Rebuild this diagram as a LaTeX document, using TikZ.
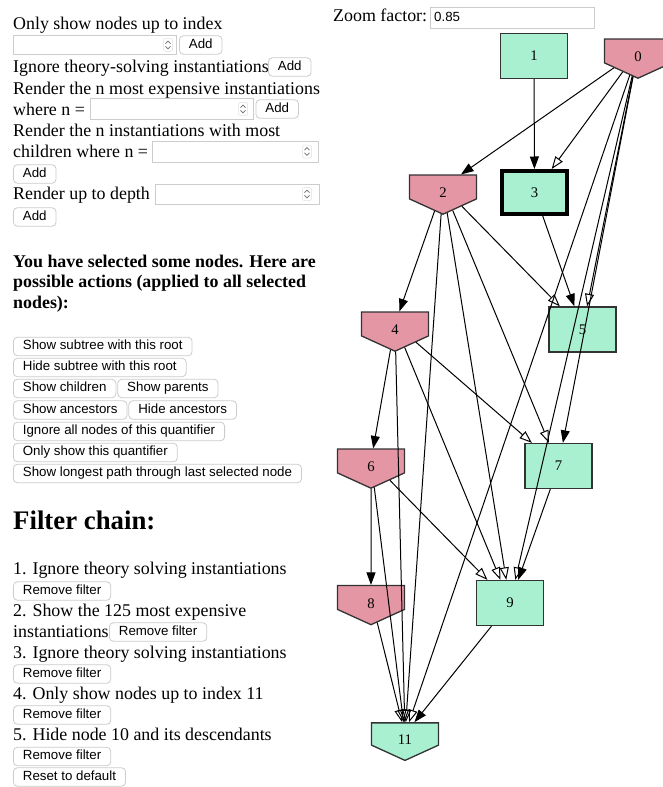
\documentclass[tikz,border=0pt]{standalone}
\usepackage{fontspec}
\setmainfont{Liberation Serif}
\setsansfont{Liberation Sans}
\usetikzlibrary{arrows.meta,shapes.symbols}

\definecolor{pinkfill}{RGB}{228,150,165}
\definecolor{greenfill}{RGB}{168,240,208}
\definecolor{nodeline}{RGB}{51,51,51}
\definecolor{boxline}{RGB}{204,204,204}
\definecolor{spincol}{RGB}{110,110,110}

\newcommand{\uitext}{\fontsize{17.9}{21.5}\selectfont}
\newcommand{\btntext}{\sffamily\fontsize{13.3}{16}\selectfont}
\newcommand{\headtext}{\bfseries\fontsize{17.9}{21}\selectfont}
\newcommand{\bigheadtext}{\bfseries\fontsize{26.8}{30}\selectfont}
\newcommand{\graphtext}{\fontsize{14.7}{17}\selectfont}

% small up/down stepper glyph of a number field
\newcommand{\spinner}[2]{%
  \draw[draw=boxline!60, line width=0.5pt, rounded corners=2pt] (#1-4.5,#2-6.5) rectangle (#1+4.5,#2+6.5);
  \draw[spin] (#1-2.4,#2-1.4) -- (#1,#2-4) -- (#1+2.4,#2-1.4);
  \draw[spin] (#1-2.4,#2+1.4) -- (#1,#2+4) -- (#1+2.4,#2+1.4);
}

\tikzset{
  txt/.style={anchor=base west, inner sep=0pt, font=\uitext},
  btn/.style={anchor=west, draw=boxline, fill=white, rounded corners=4pt, line width=0.8pt,
    font=\btntext, inner xsep=9.5pt, inner ysep=0pt, minimum height=18.5pt,
    text height=9.6pt, text depth=2.8pt},
  inbox/.style={draw=boxline, fill=white, line width=0.8pt},
  spin/.style={draw=spincol, line width=0.7pt, line cap=round, line join=round},
  qbox/.style={rectangle, draw=nodeline, fill=greenfill, line width=1.3pt,
    minimum width=67pt, minimum height=45pt, inner sep=0pt, font=\graphtext},
  % body of the pentagon is 25.5 high, the point adds about 15.5 below it;
  % the taller text box pushes the label down towards the middle of the whole shape
  qpent/.style={signal, signal to=south, signal from=nowhere, signal pointer angle=131,
    draw=nodeline, line width=1.3pt, minimum width=67pt, minimum height=25.5pt,
    inner sep=0pt, text height=21.5pt, text depth=0pt, font=\graphtext},
  direct/.style={-{Triangle[length=12.5pt,width=9pt]}, line width=1pt},
  indirect/.style={-{Triangle[open,length=12.5pt,width=9pt]}, line width=1pt},
}

\begin{document}
\begin{tikzpicture}[x=1pt, y=-1pt]
\useasboundingbox (0,0) rectangle (663,787);
\clip (0,0) rectangle (663,787);
\fill[white] (0,0) rectangle (663,787);

% ---- filter form ----
\node[txt] (t1) at (13,29.5) {Only show nodes up to index};
\draw[inbox] (13,35.5) rectangle (176,54.5); \spinner{168}{45}
\node[btn] (add1) at (179,45) {Add};
\node[txt] (t2) at (13,72.5) {Ignore theory-solving instantiations};
\node[btn] (add2) at (268,67) {Add};
\node[txt] (t3) at (13,94) {Render the n most expensive instantiations};
\node[txt] (t4) at (13,115) {where n =};
\draw[inbox] (90,98.5) rectangle (253,119); \spinner{243}{109}
\node[btn] (add3) at (255.5,109) {Add};
\node[txt] (t5) at (13,136.5) {Render the n instantiations with most};
\node[txt] (t6) at (13,157.5) {children where n =};
\draw[inbox] (152,141) rectangle (318,162); \spinner{307}{151.5}
\node[btn] (add4) at (13,174) {Add};
\node[txt] (t7) at (13,199) {Render up to depth};
\draw[inbox] (155,184) rectangle (319,204.5); \spinner{307}{194}
\node[btn] (add5) at (13,217) {Add};

% ---- actions on selected nodes ----
\node[txt, font=\headtext] (h1) at (13,267) {You have selected some nodes. Here are};
\node[txt, font=\headtext] (h2) at (13,287.5) {possible actions (applied to all selected};
\node[txt, font=\headtext] (h3) at (13,308) {nodes):};

\node[btn] (a1) at (13,346.5) {Show subtree with this root};
\node[btn] (a2) at (13,367.5) {Hide subtree with this root};
\node[btn] (a3) at (13,388.5) {Show children};
\node[btn] (a4) at ([xshift=1pt]a3.east) {Show parents};
\node[btn] (a5) at (13,410) {Show ancestors};
\node[btn] (a6) at ([xshift=1pt]a5.east) {Hide ancestors};
\node[btn] (a7) at (13,431.5) {Ignore all nodes of this quantifier};
\node[btn] (a8) at (13,452.5) {Only show this quantifier};
\node[btn] (a9) at (13,473.5) {Show longest path through last selected node};

% ---- filter chain ----
\node[txt, font=\bigheadtext] (fc) at (13,529) {Filter chain:};
\node[txt] (f1) at (13,574.5) {1. Ignore theory solving instantiations};
\node[btn] (r1) at (13,591) {Remove filter};
\node[txt] (f2) at (13,616) {2. Show the 125 most expensive};
\node[txt] (f2b) at (13,637) {instantiations};
\node[btn] (r2) at (109,632) {Remove filter};
\node[txt] (f3) at (13,658) {3. Ignore theory solving instantiations};
\node[btn] (r3) at (13,674) {Remove filter};
\node[txt] (f4) at (13,699) {4. Only show nodes up to index 11};
\node[btn] (r4) at (13,715) {Remove filter};
\node[txt] (f5) at (13,740) {5. Hide node 10 and its descendants};
\node[btn] (r5) at (13,756.5) {Remove filter};
\node[btn] (reset) at (13,777) {Reset to default};

% ---- zoom control ----
\node[txt] (zf) at (333,21.5) {Zoom factor:};
\draw[inbox] (430,7) rectangle (594,28);
\node[anchor=base west, inner sep=0pt, font=\btntext] (zv) at (434,21.5) {0.85};

% ---- instantiation graph ----
\node[qbox] (n1) at (534,56) {1};
\node[qpent, fill=pinkfill] (n0) at (638,51) {0};
\node[qpent, fill=pinkfill] (n2) at (443,187) {2};
\node[qbox, draw=black, line width=4pt, minimum width=65pt, minimum height=43pt] (n3) at (534.5,192.5) {3};
\node[qpent, fill=pinkfill] (n4) at (395,324) {4};
\node[qbox] (n5) at (582.5,329.5) {5};
\node[qpent, fill=pinkfill] (n6) at (371,461) {6};
\node[qbox] (n7) at (558.5,466) {7};
\node[qpent, fill=pinkfill] (n8) at (371,597.5) {8};
\node[qbox] (n9) at (510,603) {9};
\node[qpent, fill=greenfill] (n11) at (405,734) {11};

% direct dependencies
\draw[direct] (n1) -- (n3);
\draw[direct] (n0) -- (n2);
\draw[direct] (n0) -- (n7);
\draw[direct] (n2) -- (n4);
\draw[direct] (n3) -- (n5);
\draw[direct] (n4) -- (n6);
\draw[direct] (n6) -- (n8);
\draw[direct] (n7) -- (n9);
\draw[direct] (n9) -- (n11);
% indirect dependencies
\draw[indirect] (n0) -- (n3);
\draw[indirect] (n0) -- (n5);
\draw[indirect] (n0) -- (n9);
\draw[indirect] (n0) -- (n11);
\draw[indirect] (n2) -- (n5);
\draw[indirect] (n2) -- (n7);
\draw[indirect] (n2) -- (n9);
\draw[indirect] (n2) -- (n11);
\draw[indirect] (n4) -- (n7);
\draw[indirect] (n4) -- (n9);
\draw[indirect] (n4) -- (n11);
\draw[indirect] (n6) -- (n9);
\draw[indirect] (n6) -- (n11);
\draw[indirect] (n8) -- (n11);
\end{tikzpicture}
\end{document}
